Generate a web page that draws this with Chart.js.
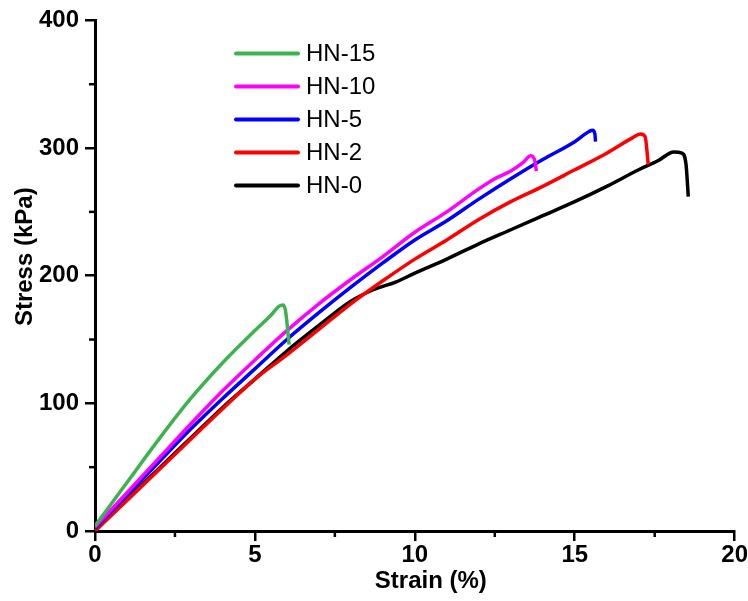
<!DOCTYPE html>
<html lang="en">
<head>
  <meta charset="UTF-8">
  <title>Stress-Strain</title>
  <style>
    body { margin: 0; padding: 0; background: #ffffff; }
    #wrap { width: 748px; height: 601px; }
  </style>
</head>
<body>
  <div id="wrap"><canvas id="chart" width="748" height="601"></canvas></div>

  <script src="https://cdn.jsdelivr.net/npm/chart.js"></script>
  <script>
    // series data (strain %, stress kPa)
    const seriesNames = ['HN-15', 'HN-10', 'HN-5', 'HN-2', 'HN-0'];
    const seriesColors = ['#3cb44b', '#ff00ff', '#0000ff', '#ff0000', '#000000'];

    const hn15X = [0, 1, 2, 3, 4, 5, 5.5, 5.75, 5.88, 5.96, 6.07];
    const hn15Y = [4, 38, 72, 104, 132, 157, 169, 176, 177, 172, 146];

    const hn10X = [0, 1, 2, 3, 4, 5, 6, 7, 8, 9, 10, 11, 12, 12.5, 13, 13.4, 13.62, 13.74, 13.8];
    const hn10Y = [3, 30, 57, 84, 110, 134, 157, 178, 197, 215, 234, 250, 268, 276, 282, 289, 294, 291, 282];

    const hn5X = [0, 1, 2, 3, 4, 5, 6, 7, 8, 9, 10, 11, 12, 13, 14, 15, 15.45, 15.56, 15.63, 15.65];
    const hn5Y = [2, 28, 54, 80, 104, 127, 150, 171, 191, 210, 228, 243, 260, 276, 291, 305, 313, 314, 311, 305];

    const hn2X = [0, 1, 2, 3, 4, 5, 6, 7, 8, 9, 10, 11, 12, 13, 14, 15, 16, 16.8, 17.05, 17.2, 17.3];
    const hn2Y = [0, 24, 48, 72, 96, 119, 138, 158, 178, 196, 213, 228, 244, 258, 270, 283, 296, 308, 311, 309, 287];

    const hn0X = [0, 1, 2, 3, 4, 5, 6, 7, 8, 8.7, 9.4, 10, 11, 12, 13, 14, 15, 16, 17, 17.6, 18.1, 18.35, 18.48, 18.55];
    const hn0Y = [0, 25, 49, 73, 97, 119, 141, 161, 180, 189, 195, 202, 213, 225, 236, 247, 258, 270, 283, 290, 297, 296, 287, 262];

    const xMinorTicks = [2.5, 7.5, 12.5, 17.5];
    const yMinorTicks = [50, 150, 250, 350];

    const xTitle = 'Strain (%)';
    const yTitle = 'Stress (kPa)';

    const allX = [hn15X, hn10X, hn5X, hn2X, hn0X];
    const allY = [hn15Y, hn10Y, hn5Y, hn2Y, hn0Y];

    const datasets = seriesNames.map((name, i) => ({
      label: name,
      data: allX[i].map((x, j) => ({ x: x, y: allY[i][j] })),
      borderColor: seriesColors[i],
      backgroundColor: seriesColors[i],
      borderWidth: 3.5,
      borderJoinStyle: 'round',
      pointRadius: 0,
      cubicInterpolationMode: 'monotone',
      fill: false
    }));

    const fontFamily = '"Liberation Sans", Arial, sans-serif';

    // short outward minor ticks + axis titles (the titles sit a bit off centre in the original)
    const axisExtras = {
      id: 'axisExtras',
      afterDraw(chart) {
        const c = chart.ctx, xs = chart.scales.x, ys = chart.scales.y, a = chart.chartArea;
        c.save();
        c.strokeStyle = '#000';
        c.lineWidth = 2.5;
        xMinorTicks.forEach(v => {
          const px = xs.getPixelForValue(v);
          c.beginPath(); c.moveTo(px, ys.bottom); c.lineTo(px, ys.bottom + 6); c.stroke();
        });
        yMinorTicks.forEach(v => {
          const py = ys.getPixelForValue(v);
          c.beginPath(); c.moveTo(xs.left, py); c.lineTo(xs.left - 6, py); c.stroke();
        });

        c.fillStyle = '#000';
        c.font = 'bold 24px ' + fontFamily;
        c.textAlign = 'center';
        c.textBaseline = 'middle';
        c.fillText(xTitle, (a.left + a.right) / 2 + 16, a.bottom + 50);
        c.translate(25, (a.top + a.bottom) / 2 - 19);
        c.rotate(-Math.PI / 2);
        c.fillText(yTitle, 0, 0);
        c.restore();
      }
    };

    // legend inside the plot, top left
    const insideLegend = {
      id: 'insideLegend',
      afterDraw(chart) {
        const c = chart.ctx, a = chart.chartArea;
        const x0 = a.left + 141, y0 = a.top + 33, step = 33;
        c.save();
        c.font = '24px ' + fontFamily;
        c.textBaseline = 'middle';
        c.lineWidth = 4;
        c.lineCap = 'round';
        seriesNames.forEach((name, i) => {
          const y = y0 + i * step;
          c.strokeStyle = seriesColors[i];
          c.beginPath(); c.moveTo(x0, y); c.lineTo(x0 + 62, y); c.stroke();
          c.fillStyle = '#000';
          c.fillText(name, x0 + 70, y + 1);
        });
        c.restore();
      }
    };

    const tickFont = { family: fontFamily, size: 24, weight: 'bold' };

    new Chart(document.getElementById('chart').getContext('2d'), {
      type: 'line',
      data: { datasets: datasets },
      options: {
        responsive: false,
        animation: false,
        layout: { padding: { top: 17, right: 13, left: 0, bottom: 0 } },
        plugins: { legend: { display: false }, tooltip: { enabled: false } },
        scales: {
          x: {
            type: 'linear',
            min: 0, max: 20,
            ticks: { stepSize: 5, color: '#000', font: tickFont, padding: 0, maxRotation: 0 },
            grid: { drawOnChartArea: false, tickLength: 10, lineWidth: 2.5, color: '#000' },
            border: { display: true, width: 3, color: '#000' },
            afterFit(scale) { scale.height = 70; }
          },
          y: {
            type: 'linear',
            min: 0, max: 400,
            ticks: { stepSize: 100, color: '#000', font: tickFont, padding: 6 },
            grid: { drawOnChartArea: false, tickLength: 10, lineWidth: 2.5, color: '#000' },
            border: { display: true, width: 3, color: '#000' },
            afterFit(scale) { scale.width = 95; }
          }
        }
      },
      plugins: [axisExtras, insideLegend]
    });
  </script>
</body>
</html>
